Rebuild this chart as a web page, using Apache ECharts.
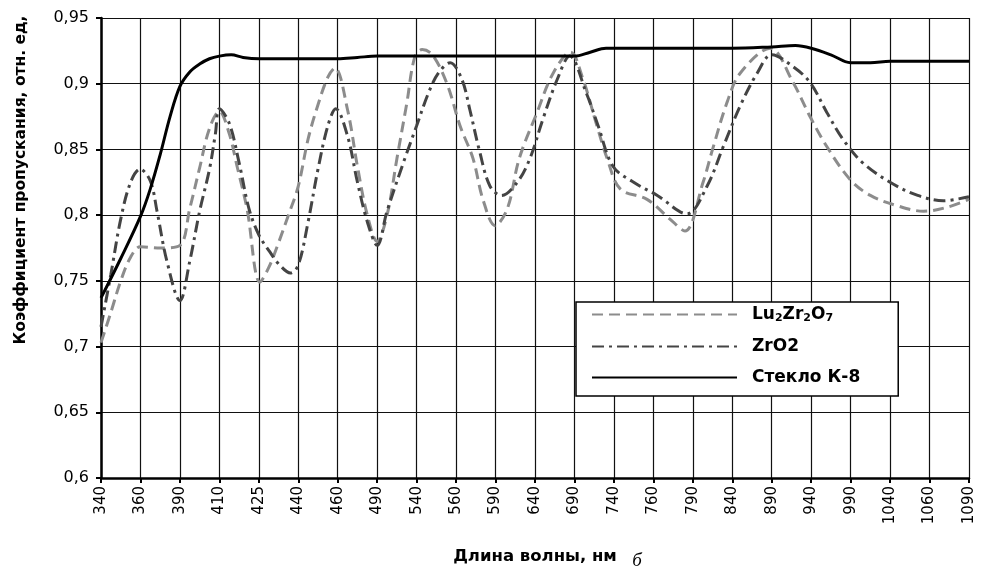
<!DOCTYPE html>
<html>
<head>
<meta charset="utf-8">
<script src="https://cdn.jsdelivr.net/npm/echarts@6/dist/echarts.min.js"></script>
<style>
html,body{margin:0;padding:0;background:#fff;}
#chart{width:981px;height:570px;}
</style>
</head>
<body>
<div id="chart"></div>
<script>
// Wavelength tick labels (evenly spaced on the axis, as in the original)
var xLabels = ['340','360','390','410','425','440','460','490','540','560','590','640','690','740','760','790','840','890','940','990','1040','1060','1090'];
var yTicks = [0.6, 0.65, 0.7, 0.75, 0.8, 0.85, 0.9, 0.95];

// Positions are in tick-index units along the x axis (0 = "340", 22 = "1090")
var luX = [0,0.25,0.5,0.75,1,1.5,2,2.25,2.5,2.75,3,3.25,3.45,3.7,4.03,4.25,4.5,4.75,5,5.25,5.5,5.75,5.93,6.25,6.5,6.75,7,7.25,7.5,7.75,7.95,8.14,8.4,8.77,9.1,9.43,9.68,9.99,10.3,10.6,11.05,11.46,11.9,12.2,12.57,12.83,13.16,13.84,14.42,14.8,15.26,15.5,15.87,16.2,16.96,17.54,17.97,18.4,18.99,19.5,20.2,20.85,21.45,22];
var luY = [0.703,0.726,0.75,0.768,0.776,0.775,0.777,0.805,0.836,0.866,0.879,0.862,0.837,0.805,0.749,0.76,0.779,0.8,0.822,0.858,0.884,0.905,0.912,0.88,0.837,0.8,0.78,0.8,0.843,0.885,0.92,0.926,0.922,0.9,0.868,0.843,0.812,0.792,0.805,0.843,0.878,0.908,0.924,0.905,0.868,0.843,0.82,0.812,0.797,0.788,0.825,0.85,0.886,0.908,0.927,0.901,0.875,0.852,0.827,0.815,0.807,0.803,0.806,0.812];

var zrX = [0,0.25,0.5,0.75,0.99,1.25,1.42,1.67,2,2.25,2.5,2.75,2.9,3,3.25,3.5,3.75,4,4.28,4.5,4.8,5,5.25,5.5,5.75,5.95,6.25,6.5,6.75,7,7.25,7.7,8,8.3,8.55,8.85,9.15,9.35,9.6,9.86,10.15,10.55,10.87,11.2,11.56,11.88,12.3,12.6,12.98,13.5,14.1,14.85,15.36,15.77,16.2,16.63,17.0,17.54,17.97,18.4,18.8,19.3,20.0,20.7,21.35,22];
var zrY = [0.715,0.755,0.797,0.825,0.835,0.826,0.803,0.765,0.735,0.765,0.803,0.835,0.862,0.881,0.87,0.84,0.805,0.785,0.772,0.763,0.756,0.762,0.795,0.835,0.868,0.881,0.86,0.825,0.795,0.777,0.803,0.843,0.868,0.893,0.908,0.916,0.903,0.88,0.848,0.822,0.815,0.825,0.843,0.873,0.903,0.921,0.893,0.868,0.837,0.825,0.815,0.801,0.822,0.852,0.883,0.908,0.922,0.913,0.901,0.878,0.858,0.84,0.825,0.815,0.811,0.814];

var k8X = [0,0.5,1,1.25,1.5,1.75,2,2.25,2.5,2.75,3,3.3,3.6,4,5,6,6.5,7,8,9,10,11,12,12.4,12.8,13,14,15,16,17,17.6,18,18.5,19,19.5,20,21,22];
var k8Y = [0.737,0.767,0.799,0.82,0.846,0.875,0.898,0.909,0.915,0.919,0.921,0.922,0.920,0.919,0.919,0.919,0.920,0.921,0.921,0.921,0.921,0.921,0.921,0.924,0.927,0.927,0.927,0.927,0.927,0.928,0.929,0.927,0.922,0.916,0.916,0.917,0.917,0.917];

var seriesNames = ['Lu2Zr2O7', 'ZrO2', 'Стекло К-8'];

function pairs(xs, ys) { return xs.map(function (x, i) { return [x, ys[i]]; }); }

var FONT = '"DejaVu Sans", "Liberation Sans", sans-serif';
var chart = echarts.init(document.getElementById('chart'));
chart.setOption({
  backgroundColor: '#fff',
  animation: false,
  grid: { left: 101, right: 12, top: 18, bottom: 89 },
  xAxis: {
    type: 'value', min: 0, max: xLabels.length - 1, interval: 1,
    name: 'Длина волны, нм', nameLocation: 'middle', nameGap: 70,
    nameTextStyle: { fontFamily: FONT, fontSize: 16.5, fontWeight: 'bold', color: '#000' },
    axisLine: { onZero: false, lineStyle: { color: '#000', width: 2.5 } },
    axisTick: { show: true, inside: false, length: 5, lineStyle: { color: '#000', width: 2 } },
    axisLabel: {
      rotate: 90, margin: 8, fontFamily: FONT, fontSize: 15, color: '#000',
      formatter: function (v) { return xLabels[Math.round(v)] || ''; }
    },
    splitLine: { show: true, lineStyle: { color: '#111', width: 1.2 } }
  },
  yAxis: {
    type: 'value', min: yTicks[0], max: yTicks[yTicks.length - 1], interval: 0.05,
    axisLine: { show: true, lineStyle: { color: '#000', width: 2.5 } },
    axisTick: { show: true, inside: false, length: 5, lineStyle: { color: '#000', width: 2 } },
    axisLabel: {
      margin: 12, fontFamily: FONT, fontSize: 16, color: '#000',
      formatter: function (v) { return String(Math.round(v * 100) / 100).replace('.', ','); }
    },
    splitLine: { show: true, lineStyle: { color: '#111', width: 1.2 } }
  },
  legend: {
    orient: 'vertical', left: 576, top: 302,
    data: seriesNames,
    backgroundColor: '#fff', borderColor: '#000', borderWidth: 1.5,
    padding: [4, 38, 10, 15],
    itemWidth: 145, itemHeight: 14, itemGap: 14,
    itemStyle: { opacity: 0 },
    formatter: function (name) {
      if (name === 'Lu2Zr2O7') return '{b|Lu}{s|2}{b|Zr}{s|2}{b|O}{s|7}';
      return '{b|' + name + '}';
    },
    textStyle: {
      padding: [0, 0, 0, 10],
      rich: {
        b: { fontFamily: FONT, fontSize: 17, fontWeight: 'bold', color: '#000', lineHeight: 20 },
        s: { fontFamily: FONT, fontSize: 11, fontWeight: 'bold', color: '#000', padding: [8, 0, 0, 0] }
      }
    }
  },
  graphic: [
    {
      type: 'text', x: 21, y: 180, rotation: Math.PI / 2,
      style: { text: 'Коэффициент пропускания, отн. ед,', fontFamily: FONT, fontSize: 15.5, fontWeight: 'bold', fill: '#000', align: 'center', verticalAlign: 'middle' }
    },
    {
      type: 'text', x: 637, y: 561,
      style: { text: 'б', fontFamily: '"Liberation Serif", "DejaVu Serif", serif', fontSize: 19, fontStyle: 'italic', fill: '#000', align: 'center', verticalAlign: 'middle' }
    }
  ],
  series: [
    {
      name: seriesNames[0], type: 'line', smooth: 0.35, symbol: 'none',
      data: pairs(luX, luY),
      lineStyle: { color: '#8c8c8c', width: 3, type: [11, 6] },
      itemStyle: { color: '#8c8c8c' }, z: 3
    },
    {
      name: seriesNames[1], type: 'line', smooth: 0.35, symbol: 'none',
      data: pairs(zrX, zrY),
      lineStyle: { color: '#444', width: 3, type: [12, 5, 3, 5] },
      itemStyle: { color: '#444' }, z: 4
    },
    {
      name: seriesNames[2], type: 'line', smooth: 0.35, symbol: 'none',
      data: pairs(k8X, k8Y),
      lineStyle: { color: '#000', width: 3, type: 'solid' },
      itemStyle: { color: '#000' }, z: 5
    }
  ]
});
</script>
</body>
</html>
